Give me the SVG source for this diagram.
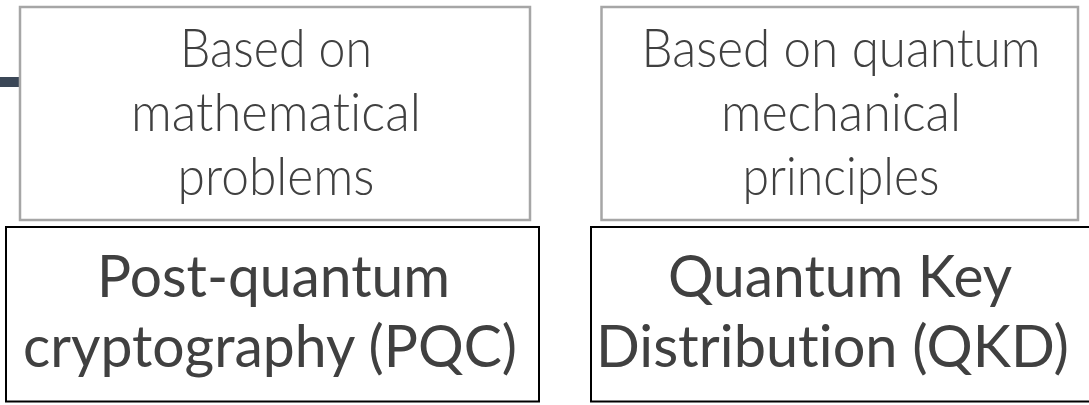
<svg xmlns="http://www.w3.org/2000/svg" width="1089" height="405" viewBox="0 0 1089 405">
<style>
.gray{fill:#ffffff;stroke:#a6a6a6;stroke-width:2.5}
.blk{fill:#ffffff;stroke:#000000;stroke-width:2}
text{font-variant-ligatures:none;font-feature-settings:"liga" 0,"clig" 0}
.lt{font-family:Lato,"Open Sans","Liberation Sans",sans-serif;font-weight:300;font-size:53px;fill:#404040;text-anchor:middle}
.rg{font-family:Lato,"Open Sans","Liberation Sans",sans-serif;font-weight:400;font-size:58px;fill:#404040;text-anchor:middle}
</style>
<rect width="1089" height="405" fill="#ffffff"/>
<g id="connectors">
<rect x="0" y="77" width="19" height="10" fill="#3b4757"/>
</g>
<g id="node-math">
<rect class="gray" x="20" y="7" width="510" height="213"/>
<text class="lt" x="276" y="67" textLength="192" lengthAdjust="spacingAndGlyphs">Based on</text>
<text class="lt" x="276" y="131" textLength="290" lengthAdjust="spacingAndGlyphs">mathematical</text>
<text class="lt" x="276" y="195" textLength="197" lengthAdjust="spacingAndGlyphs">problems</text>
</g>
<g id="node-quantum">
<rect class="gray" x="601.5" y="7" width="476.5" height="213"/>
<text class="lt" x="841" y="67" textLength="399" lengthAdjust="spacingAndGlyphs">Based on quantum</text>
<text class="lt" x="841" y="131" textLength="240" lengthAdjust="spacingAndGlyphs">mechanical</text>
<text class="lt" x="841" y="195" textLength="197" lengthAdjust="spacingAndGlyphs">principles</text>
</g>
<g id="node-pqc">
<rect class="blk" x="6" y="227" width="533" height="174.5"/>
<text class="rg" x="273.5" y="297" textLength="353" lengthAdjust="spacingAndGlyphs">Post-quantum</text>
<text class="rg" x="270" y="367" textLength="494" lengthAdjust="spacingAndGlyphs">cryptography (PQC)</text>
</g>
<g id="node-qkd">
<rect class="blk" x="591" y="227" width="510" height="174.5"/>
<text class="rg" x="840" y="297" textLength="344" lengthAdjust="spacingAndGlyphs">Quantum Key</text>
<text class="rg" x="832.5" y="367" textLength="473" lengthAdjust="spacingAndGlyphs">Distribution (QKD)</text>
</g>
</svg>
